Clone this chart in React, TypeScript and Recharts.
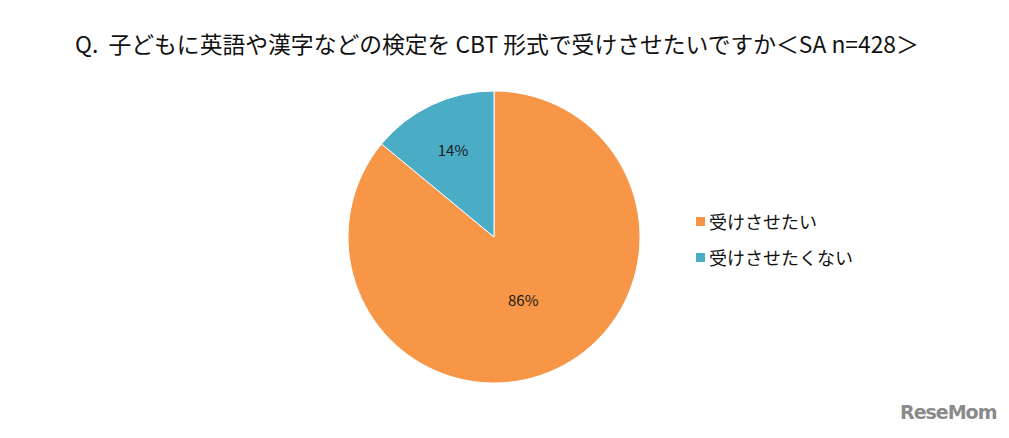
import { PieChart, Pie, Cell, Legend } from "recharts";

const CATEGORIES = ["受けさせたい", "受けさせたくない"];
const VALUES = [86, 14];
const COLORS = ["#F79646", "#4BACC6"];
const TITLE = "Q.  子どもに英語や漢字などの検定を CBT 形式で受けさせたいですか＜SA n=428＞";

const data = CATEGORIES.map((name, i) => ({ name, value: VALUES[i] }));

const RADIAN = Math.PI / 180;
const LABEL_R = [0.47, 0.66];

function renderLabel(props: any) {
  const { cx, cy, midAngle, outerRadius, index, value } = props;
  const r = outerRadius * LABEL_R[index];
  const x = cx + r * Math.cos(-midAngle * RADIAN);
  const y = cy + r * Math.sin(-midAngle * RADIAN);
  return (
    <text
      x={x}
      y={y}
      fill="#1a1a1a"
      fontSize={15}
      fontFamily="'Noto Sans CJK JP', sans-serif"
      textAnchor="middle"
      dominantBaseline="central"
    >
      {value}%
    </text>
  );
}

function LegendContent() {
  return (
    <div style={{ fontFamily: "'Noto Sans CJK JP', sans-serif", fontSize: 18, color: "#111" }}>
      {data.map((d, i) => (
        <div key={d.name} style={{ display: "flex", alignItems: "center", height: 36 }}>
          <span style={{ width: 9, height: 9, background: COLORS[i], marginRight: 4, display: "inline-block" }} />
          <span>{d.name}</span>
        </div>
      ))}
    </div>
  );
}

export default function App() {
  return (
    <div style={{ position: "absolute", left: 0, top: 0, width: 1009, height: 438, background: "#fff" }}>
      <div
        style={{
          position: "absolute",
          left: 75,
          top: 29,
          fontFamily: "'Noto Sans CJK JP', sans-serif",
          fontSize: 22.8,
          color: "#111",
          whiteSpace: "pre",
          lineHeight: "30px",
        }}
      >
        {TITLE}
      </div>
      <PieChart width={1009} height={438} margin={{ top: 0, right: 0, bottom: 0, left: 0 }}>
        <Pie
          data={data}
          dataKey="value"
          nameKey="name"
          cx={494}
          cy={237}
          outerRadius={146}
          startAngle={90}
          endAngle={-270}
          stroke="#fff"
          strokeWidth={1}
          label={renderLabel}
          labelLine={false}
          isAnimationActive={false}
        >
          {data.map((d, i) => (
            <Cell key={d.name} fill={COLORS[i]} />
          ))}
        </Pie>
        <Legend
          content={<LegendContent />}
          wrapperStyle={{ left: 696, top: 203, width: 200 }}
        />
      </PieChart>
      <div
        style={{
          position: "absolute",
          left: 900,
          top: 401,
          fontFamily: "'DejaVu Sans', sans-serif",
          fontWeight: "bold",
          fontSize: 19,
          color: "#8a8a8a",
          letterSpacing: -1,
        }}
      >
        ReseMom
      </div>
    </div>
  );
}
